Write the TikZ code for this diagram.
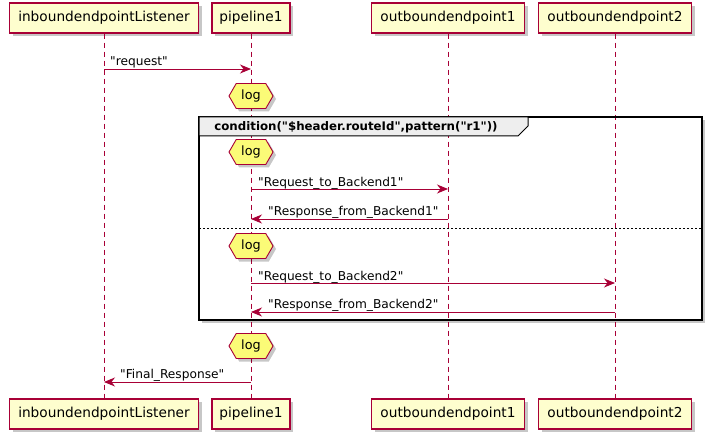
\documentclass[tikz,border=0pt]{standalone}
\usepackage{fontspec}
\setmainfont{DejaVu Sans}[Ligatures=TeXOff]
\usetikzlibrary{arrows.meta,shapes.symbols,shadows}
\definecolor{pred}{HTML}{A80036}
\definecolor{pfill}{HTML}{FEFECE}
\definecolor{lfill}{HTML}{FBFB77}
\definecolor{gfill}{HTML}{EEEEEE}
\begin{document}
\begin{tikzpicture}[x=1pt,y=-1pt,
  shd/.style={drop shadow={shadow xshift=3pt,shadow yshift=-3pt,fill=black,opacity=0.22}},
  part/.style={draw=pred, fill=pfill, line width=1.1pt, minimum height=30pt, inner sep=0pt, shd,
    font=\fontsize{13.7}{16}\selectfont},
  life/.style={draw=pred, line width=0.8pt, dash pattern=on 5pt off 4pt},
  logbox/.style={shape=signal, signal to=east and west, signal pointer angle=120, draw=pred, fill=lfill,
    line width=0.9pt, minimum width=44pt, minimum height=25pt, inner sep=0pt, shd,
    font=\fontsize{12.8}{15}\selectfont},
  msg/.style={draw=pred, line width=0.9pt, -{Stealth[length=11pt,width=9pt,inset=3.5pt]}},
  lbl/.style={anchor=base west, inner sep=0pt, font=\fontsize{12.2}{15}\selectfont},
  ]
\useasboundingbox (0,0) rectangle (715,441);
% participants
\node[part, minimum width=189pt] (inbT) at (104,18) {inboundendpointListener};
\node[part, minimum width=78pt] (pipT) at (251,18) {pipeline1};
\node[part, minimum width=153pt] (o1T) at (448,18) {outboundendpoint1};
\node[part, minimum width=153pt] (o2T) at (615,18) {outboundendpoint2};
\node[part, minimum width=189pt] (inbB) at (104,414) {inboundendpointListener};
\node[part, minimum width=78pt] (pipB) at (251,414) {pipeline1};
\node[part, minimum width=153pt] (o1B) at (448,414) {outboundendpoint1};
\node[part, minimum width=153pt] (o2B) at (615,414) {outboundendpoint2};
% group frame background with shadow
\path[fill=white, shd] (199,117) rectangle (702,320);
% lifelines
\draw[life] (inbT.south) -- (inbB.north);
\draw[life] (pipT.south) -- (pipB.north);
\draw[life] (o1T.south) -- (o1B.north);
\draw[life] (o2T.south) -- (o2B.north);
% group frame
\draw[black, line width=1.5pt] (199,117) rectangle (702,320);
\draw[black, line width=1pt, fill=gfill] (199,117) -- (528,117) -- (528,126) -- (518,136) -- (199,136) -- cycle;
\node[font=\bfseries\fontsize{11.8}{14}\selectfont, inner sep=0pt] (grp) at (356,127) {condition("\$header.routeId",pattern("r1"))};
\draw[black, line width=0.7pt, dash pattern=on 2pt off 2pt] (199,228) -- (702,228);
% messages
\draw[msg] (inbT.south |- 0,69) -- (pipT.south |- 0,69);
\node[lbl] (l1) at (110,66) {"request"};
\node[logbox] (log1) at (251,96) {log};
\node[logbox] (log2) at (251,152) {log};
\draw[msg] (pipT.south |- 0,189) -- (o1T.south |- 0,189);
\node[lbl] (l2) at (258,186) {"Request\_to\_Backend1"};
\draw[msg] (o1T.south |- 0,219) -- (pipT.south |- 0,219);
\node[lbl] (l3) at (268,215) {"Response\_from\_Backend1"};
\node[logbox] (log3) at (251,246) {log};
\draw[msg] (pipT.south |- 0,283) -- (o2T.south |- 0,283);
\node[lbl] (l4) at (258,280) {"Request\_to\_Backend2"};
\draw[msg] (o2T.south |- 0,312) -- (pipT.south |- 0,312);
\node[lbl] (l5) at (268,308) {"Response\_from\_Backend2"};
\node[logbox] (log4) at (251,346) {log};
\draw[msg] (pipT.south |- 0,382) -- (inbT.south |- 0,382);
\node[lbl] (l6) at (120,378) {"Final\_Response"};
\end{tikzpicture}
\end{document}
